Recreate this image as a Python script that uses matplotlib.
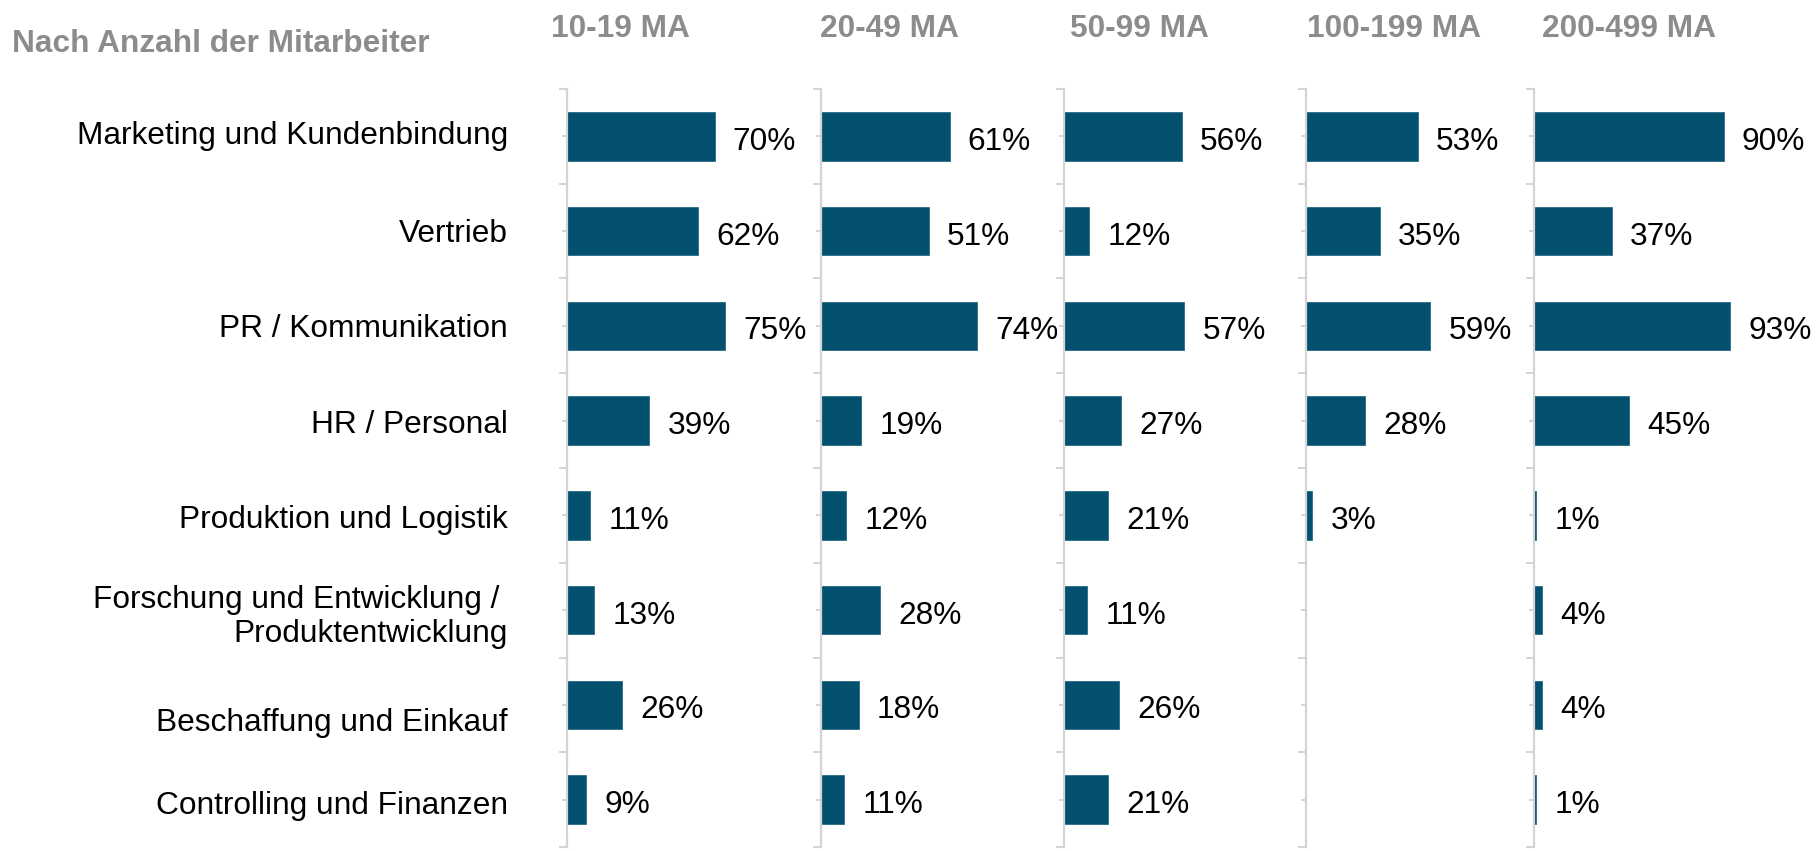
import matplotlib
matplotlib.use("Agg")
import matplotlib.pyplot as plt
from matplotlib.transforms import ScaledTranslation
import numpy as np

plt.rcParams['font.family'] = ['Liberation Sans', 'DejaVu Sans']

header = "Nach Anzahl der Mitarbeiter"
categories = [
    "Marketing und Kundenbindung",
    "Vertrieb",
    "PR / Kommunikation",
    "HR / Personal",
    "Produktion und Logistik",
    "Forschung und Entwicklung / \nProduktentwicklung",
    "Beschaffung und Einkauf",
    "Controlling und Finanzen",
]
groups = ["10-19 MA", "20-49 MA", "50-99 MA", "100-199 MA", "200-499 MA"]
vals_10_19 = [70, 62, 75, 39, 11, 13, 26, 9]
vals_20_49 = [61, 51, 74, 19, 12, 28, 18, 11]
vals_50_99 = [56, 12, 57, 27, 21, 11, 26, 21]
vals_100_199 = [53, 35, 59, 28, 3, None, None, None]
vals_200_499 = [90, 37, 93, 45, 1, 4, 4, 1]
series = [vals_10_19, vals_20_49, vals_50_99, vals_100_199, vals_200_499]

# label vertical nudges in pixels (positive = down), purely stylistic
label_nudge_px = [-3, 0, 0, 1, 2, 4, 15, 3]

W, H = 1819, 851
fig = plt.figure(figsize=(W / 100, H / 100), dpi=100)

bar_color = '#03506f'
grid_col = '#d4d4d4'
grey_txt = '#8c8c8c'
fs = 22.8

spine_x = [567, 821, 1064, 1306, 1534]
title_x = [551, 820, 1070, 1307, 1542]
px_per_pct = 2.11
ax_top, ax_bot = 89, 847

n = len(categories)
centers = np.arange(n) + 0.5

for gi, (vals, sx) in enumerate(zip(series, spine_x)):
    ax = fig.add_axes([sx / W, 1 - ax_bot / H, 100 * px_per_pct / W, (ax_bot - ax_top) / H])
    ax.set_xlim(0, 100)
    ax.set_ylim(n, 0)
    for s in ['top', 'right', 'bottom']:
        ax.spines[s].set_visible(False)
    ax.spines['left'].set_color(grid_col)
    ax.spines['left'].set_linewidth(1.6)
    ax.set_xticks([])
    ax.set_yticks(centers)
    ax.set_yticks(np.arange(n + 1), minor=True)
    ax.tick_params(axis='y', which='major', length=3.6, width=1.4, color=grid_col,
                   labelleft=False)
    ax.tick_params(axis='y', which='minor', length=5.8, width=1.4, color=grid_col)
    ax.patch.set_alpha(0)
    if gi == 0:
        for ci, cat in enumerate(categories):
            tr = ax.get_yaxis_transform() + ScaledTranslation(
                -59 / 100, -(label_nudge_px[ci] + 3) / 100, fig.dpi_scale_trans)
            ax.text(0, centers[ci], cat, transform=tr, ha='right', va='center',
                    multialignment='right', fontsize=fs, color='black',
                    linespacing=1.18)
    for ci, v in enumerate(vals):
        if v is None:
            continue
        ax.barh(centers[ci], v, height=0.51, color=bar_color, edgecolor='#2a6a85',
                linewidth=0.6, zorder=2)
        ax.annotate(f"{v}%", xy=(v, centers[ci]), xytext=(13, -4),
                    textcoords='offset points', ha='left', va='center',
                    fontsize=fs, color='black', annotation_clip=False)
    fig.text(title_x[gi] / W, 1 - 29 / H, groups[gi], ha='left', va='center',
             fontsize=fs, fontweight='bold', color=grey_txt)

fig.text(12 / W, 1 - 44 / H, header, ha='left', va='center', fontsize=fs,
         fontweight='bold', color=grey_txt)

fig.savefig("out.png", dpi=100)
